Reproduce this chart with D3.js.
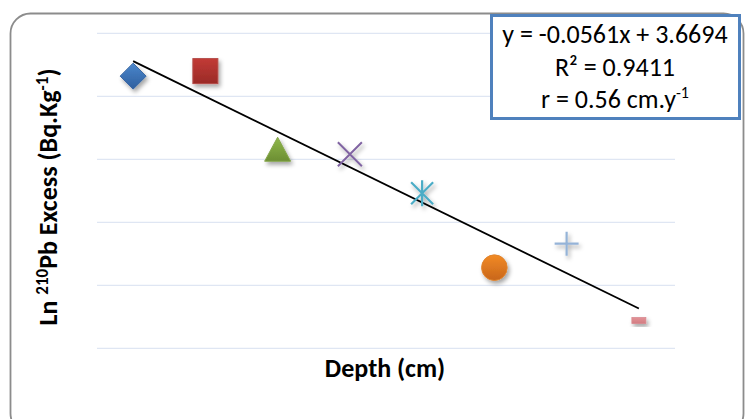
<!DOCTYPE html>
<html>
<head>
<meta charset="utf-8">
<script src="https://cdn.jsdelivr.net/npm/d3@7/dist/d3.min.js"></script>
<style>
  html, body { margin: 0; padding: 0; background: #fff; }
  svg { display: block; }
  text { font-family: Carlito, Lato, "Open Sans", sans-serif; fill: #000; }
</style>
</head>
<body>
<svg id="chart" width="746" height="419"></svg>
<script>
// Sediment core: depth (cm) vs ln of excess 210Pb activity
const depths = [2.5, 7.5, 12.5, 17.5, 22.5, 27.5, 32.5, 37.5];
const lnPbExcess = [3.41, 3.45, 2.83, 2.79, 2.48, 1.89, 2.08, 1.47];
const markerKinds = ["diamond", "square", "triangle", "x", "asterisk", "circle", "plus", "dash"];
const markerColors = ["#4f81bd", "#c0504d", "#9bbb59", "#8064a2", "#4bacc6", "#f79646", "#95b3d7", "#d99694"];
const gridValues = [1.25, 1.75, 2.25, 2.75, 3.25, 3.75];
// Linear fit reported on the chart
const fitSlope = -0.0561;
const fitIntercept = 3.6694;
const fitR2 = 0.9411;
const sedRate = 0.56;

const svg = d3.select("#chart");
const defs = svg.append("defs");

const shadow = defs.append("filter").attr("id", "shadow")
  .attr("x", "-50%").attr("y", "-50%").attr("width", "200%").attr("height", "200%");
shadow.append("feDropShadow").attr("dx", 2).attr("dy", 3).attr("stdDeviation", 2)
  .attr("flood-color", "#000").attr("flood-opacity", 0.35);

function gradient(id, top, bottom) {
  const g = defs.append("linearGradient").attr("id", id)
    .attr("x1", 0).attr("y1", 0).attr("x2", 0).attr("y2", 1);
  g.append("stop").attr("offset", "0%").attr("stop-color", top);
  g.append("stop").attr("offset", "100%").attr("stop-color", bottom);
}
gradient("g-diamond", "#4a86cc", "#2f5f9e");
gradient("g-square", "#c23b36", "#9a2a27");
gradient("g-triangle", "#8fb84a", "#6c8e33");
gradient("g-circle", "#f28a25", "#c8661b");
gradient("g-dash", "#e39196", "#d27c82");

// Outer rounded frame
svg.append("rect")
  .attr("x", 10.5).attr("y", 13.5).attr("width", 733).attr("height", 420)
  .attr("rx", 20).attr("ry", 20)
  .attr("fill", "#fff").attr("stroke", "#8c8c8c").attr("stroke-width", 1.8);

const x = d3.scaleLinear().domain([0, 40]).range([97, 675]);
const y = d3.scaleLinear().domain([1.25, 3.75]).range([348.3, 33.3]);

// Horizontal gridlines
svg.append("g").selectAll("line").data(gridValues).join("line")
  .attr("x1", x.range()[0]).attr("x2", x.range()[1])
  .attr("y1", d => y(d)).attr("y2", d => y(d))
  .attr("stroke", "#dfe6f3").attr("stroke-width", 1.2);

// Trendline across the measured depth range
const xMin = d3.min(depths), xMax = d3.max(depths);
svg.append("line")
  .attr("x1", x(xMin)).attr("y1", y(fitIntercept + fitSlope * xMin))
  .attr("x2", x(xMax)).attr("y2", y(fitIntercept + fitSlope * xMax))
  .attr("stroke", "#000").attr("stroke-width", 1.8);

// Markers
function drawMarker(g, kind, color) {
  switch (kind) {
    case "diamond":
      g.append("path").attr("d", "M0,-13L13,0L0,13L-13,0Z")
        .attr("fill", "url(#g-diamond)").attr("stroke", "#3a68a3").attr("stroke-width", 1);
      break;
    case "square":
      g.append("rect").attr("x", -12.5).attr("y", -12.5).attr("width", 25).attr("height", 25)
        .attr("fill", "url(#g-square)").attr("stroke", "#b44a47").attr("stroke-width", 1);
      break;
    case "triangle":
      g.append("path").attr("d", "M0,-12L13,12L-13,12Z")
        .attr("fill", "url(#g-triangle)").attr("stroke", "#86a64b").attr("stroke-width", 1);
      break;
    case "x":
      g.append("path").attr("d", "M-12,-12L12,12M12,-12L-12,12")
        .attr("stroke", color).attr("stroke-width", 2).attr("fill", "none");
      break;
    case "asterisk":
      g.append("path").attr("d", "M-11,-11L11,11M11,-11L-11,11M0,-13L0,13")
        .attr("stroke", color).attr("stroke-width", 2.2).attr("fill", "none");
      break;
    case "circle":
      g.append("circle").attr("r", 12.8)
        .attr("fill", "url(#g-circle)").attr("stroke", "#e0842e").attr("stroke-width", 1);
      break;
    case "plus":
      g.append("path").attr("d", "M-12,0L12,0M0,-12L0,12")
        .attr("stroke", color).attr("stroke-width", 2.2).attr("fill", "none");
      break;
    case "dash":
      g.append("rect").attr("x", -7).attr("y", -3).attr("width", 14).attr("height", 6)
        .attr("fill", "url(#g-dash)").attr("stroke", "#d98a90").attr("stroke-width", 0.8);
      break;
  }
}
const points = depths.map((d, i) => ({ d, v: lnPbExcess[i], kind: markerKinds[i], color: markerColors[i] }));
svg.append("g").selectAll("g").data(points).join("g")
  .attr("transform", p => `translate(${x(p.d)},${y(p.v)})`)
  .attr("filter", "url(#shadow)")
  .each(function (p) { drawMarker(d3.select(this), p.kind, p.color); });

// Axis titles
svg.append("text")
  .attr("x", 385).attr("y", 377)
  .attr("text-anchor", "middle").attr("font-weight", "bold").attr("font-size", 26)
  .text("Depth (cm)");

const yt = svg.append("text")
  .attr("transform", "translate(57,197) rotate(-90)")
  .attr("text-anchor", "middle").attr("font-weight", "bold").attr("font-size", 26);
yt.append("tspan").text("Ln ");
yt.append("tspan").attr("font-size", 17).attr("dy", -9).text("210");
yt.append("tspan").attr("dy", 9).text("Pb Excess (Bq.Kg");
yt.append("tspan").attr("font-size", 17).attr("dy", -9).text("-1");
yt.append("tspan").attr("dy", 9).text(")");

// Equation box
svg.append("rect")
  .attr("x", 491.5).attr("y", 15.5).attr("width", 248).attr("height", 103)
  .attr("fill", "#fff").attr("stroke", "#4f81bd").attr("stroke-width", 3);

const cx = 615;
svg.append("text").attr("x", cx).attr("y", 43).attr("text-anchor", "middle").attr("font-size", 26)
  .text(`y = ${fitSlope.toFixed(4)}x + ${fitIntercept.toFixed(4)}`);
svg.append("text").attr("x", cx).attr("y", 76).attr("text-anchor", "middle").attr("font-size", 26)
  .text(`R² = ${fitR2.toFixed(4)}`);
const rt = svg.append("text").attr("x", cx).attr("y", 108).attr("text-anchor", "middle").attr("font-size", 26);
rt.append("tspan").text(`r = ${sedRate.toFixed(2)} cm.y`);
rt.append("tspan").attr("font-size", 16).attr("dy", -10).text("-1");
</script>
</body>
</html>
